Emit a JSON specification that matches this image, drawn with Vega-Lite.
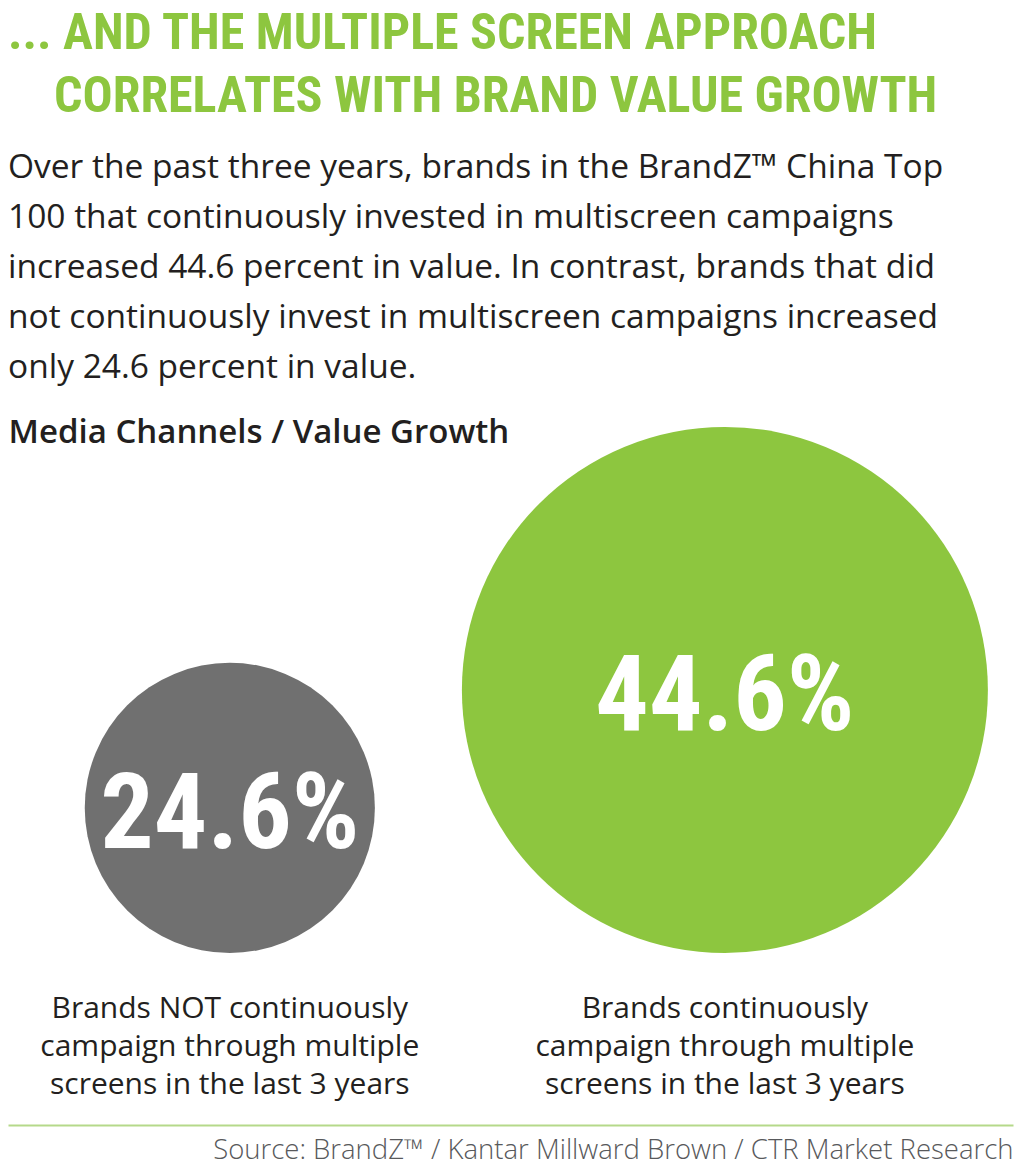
{
  "$schema": "https://vega.github.io/schema/vega-lite/v6.json",
  "width": 1005,
  "height": 670,
  "autosize": {"type": "none"},
  "padding": {"left": 8, "right": 7, "top": 455, "bottom": 40},
  "background": "white",
  "config": {"view": {"stroke": null}},
  "title": {
    "text": ["... AND THE MULTIPLE SCREEN APPROACH", "\u200b\u00a0\u00a0\u00a0\u00a0CORRELATES WITH BRAND VALUE GROWTH"],
    "subtitle": [
      "Over the past three years, brands in the BrandZ™ China Top",
      "100 that continuously invested in multiscreen campaigns",
      "increased 44.6 percent in value. In contrast, brands that did",
      "not continuously invest in multiscreen campaigns increased",
      "only 24.6 percent in value."
    ],
    "anchor": "start",
    "font": "Roboto Condensed, DejaVu Sans Condensed, Liberation Sans Narrow, sans-serif",
    "fontSize": 50,
    "fontWeight": "bold",
    "color": "#8DC63F",
    "lineHeight": 63,
    "subtitleFont": "Open Sans",
    "subtitleFontSize": 33.5,
    "subtitleColor": "#231F20",
    "subtitleLineHeight": 50,
    "subtitlePadding": 30,
    "offset": 32
  },
  "data": {
    "values": [
      {"group": "Not continuous", "label": "Brands NOT continuously\ncampaign through multiple\nscreens in the last 3 years", "growth": 0.246},
      {"group": "Continuous", "label": "Brands continuously\ncampaign through multiple\nscreens in the last 3 years", "growth": 0.446}
    ]
  },
  "resolve": {"scale": {"x": "independent"}, "axis": {"x": "independent"}},
  "layer": [
    {
      "mark": {"type": "circle", "opacity": 1, "strokeWidth": 0},
      "encoding": {
        "x": {"field": "group", "type": "nominal", "sort": ["Not continuous", "Continuous"],
          "scale": {"type": "point", "padding": 0.515, "align": 0.435},
          "axis": {"orient": "top", "labels": false, "ticks": false, "domain": false, "grid": false,
            "title": "Media Channels / Value Growth", "titleAnchor": "start", "titleFont": "Open Sans",
            "titleFontSize": 33, "titleFontWeight": 600, "titleColor": "#231F20", "titlePadding": 6}},
        "y": {"field": "growth", "type": "quantitative", "scale": {"domain": [-0.2917, 0.8444], "zero": false, "nice": false}, "axis": null},
        "size": {"field": "growth", "type": "quantitative", "scale": {"type": "pow", "exponent": 2, "domain": [0, 0.446], "range": [0, 276676]}, "legend": null},
        "color": {"field": "group", "type": "nominal", "scale": {"domain": ["Not continuous", "Continuous"], "range": ["#707070", "#8DC63F"]}, "legend": null}
      }
    },
    {
      "mark": {"type": "text", "font": "Roboto Condensed, DejaVu Sans Condensed, Liberation Sans Narrow, sans-serif", "fontWeight": "bold", "fontSize": 106, "color": "white", "align": "center", "baseline": "middle", "dy": 8},
      "encoding": {
        "x": {"field": "group", "type": "nominal", "sort": ["Not continuous", "Continuous"],
          "scale": {"type": "point", "padding": 0.515, "align": 0.435}, "axis": null},
        "y": {"field": "growth", "type": "quantitative", "axis": null},
        "text": {"field": "growth", "type": "quantitative", "format": ".1%"}
      }
    },
    {
      "mark": {"type": "text", "font": "Open Sans", "fontSize": 30, "color": "#231F20", "align": "center", "baseline": "top", "dy": 41, "lineBreak": "\n", "lineHeight": 38},
      "encoding": {
        "x": {"field": "group", "type": "nominal", "sort": ["Not continuous", "Continuous"],
          "scale": {"type": "point", "padding": 0.515, "align": 0.435},
          "axis": {"orient": "bottom", "labels": false, "ticks": false, "grid": false, "domain": true,
            "domainColor": "#B5D98A", "domainWidth": 2,
            "title": "Source: BrandZ™ / Kantar Millward Brown / CTR Market Research", "titleAnchor": "end",
            "titleFont": "Open Sans", "titleFontSize": 27.5, "titleFontWeight": 300, "titleColor": "#58595B", "titlePadding": 11}},
        "y": {"datum": 0, "type": "quantitative", "axis": null},
        "text": {"field": "label"}
      }
    }
  ]
}
